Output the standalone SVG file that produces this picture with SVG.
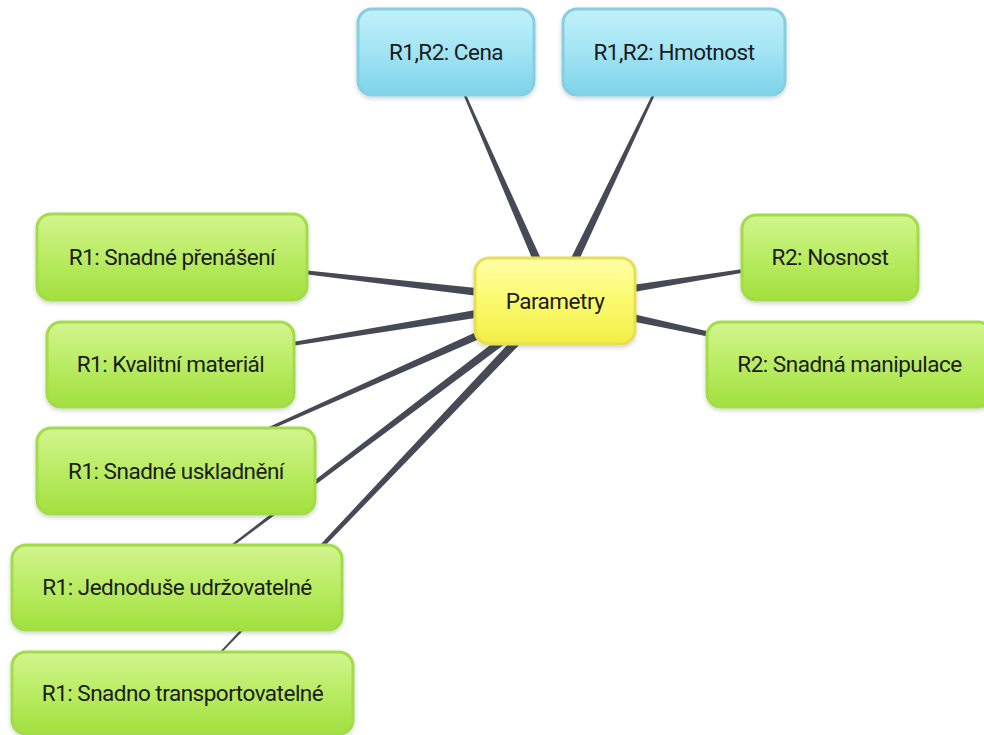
<svg xmlns="http://www.w3.org/2000/svg" width="984" height="735" viewBox="0 0 984 735">
  <defs>
    <linearGradient id="gGreen" x1="0" y1="0" x2="0" y2="1">
      <stop offset="0" stop-color="#d2f58e"/>
      <stop offset="0.5" stop-color="#b9ec63"/>
      <stop offset="1" stop-color="#a2e03f"/>
    </linearGradient>
    <linearGradient id="gBlue" x1="0" y1="0" x2="0" y2="1">
      <stop offset="0" stop-color="#c2f1fa"/>
      <stop offset="0.5" stop-color="#a2e4f4"/>
      <stop offset="1" stop-color="#7dd3e9"/>
    </linearGradient>
    <linearGradient id="gYellow" x1="0" y1="0" x2="0" y2="1">
      <stop offset="0" stop-color="#ffffa8"/>
      <stop offset="0.5" stop-color="#fbfa6c"/>
      <stop offset="1" stop-color="#f2ee48"/>
    </linearGradient>
    <filter id="shadow" x="-10%" y="-10%" width="120%" height="130%">
      <feDropShadow dx="0" dy="2" stdDeviation="2" flood-color="#000000" flood-opacity="0.18"/>
    </filter>
  </defs>
  <style>
    .box { stroke-width: 3; filter: url(#shadow); }
    .green { fill: url(#gGreen); stroke: #a3dc48; }
    .blue { fill: url(#gBlue); stroke: #86cfe2; }
    .yellow { fill: url(#gYellow); stroke: #e6df55; }
    .label { font-family: Roboto, "Liberation Sans", sans-serif; font-size: 22.5px; letter-spacing: -0.5px; fill: #1b1b1b; text-anchor: middle; }
    .link { fill: #464a56; }
  </style>
  <rect width="984" height="735" fill="#ffffff"/>

  <!-- tapered branches from the central topic to each subtopic -->
  <g id="connectors">
    <polygon class="link" points="559.35,299.10 446.46,51.80 445.54,52.20 550.65,302.90"/>
    <polygon class="link" points="559.29,303.05 674.45,52.22 673.55,51.78 550.71,298.95"/>
    <polygon class="link" points="555.54,296.28 172.06,256.50 171.94,257.50 554.46,305.72"/>
    <polygon class="link" points="554.23,296.31 169.92,363.51 170.08,364.49 555.77,305.69"/>
    <polygon class="link" points="553.07,296.66 175.80,469.54 176.20,470.46 556.93,305.34"/>
    <polygon class="link" points="552.13,297.21 176.70,586.60 177.30,587.40 557.87,304.79"/>
    <polygon class="link" points="551.56,297.73 181.64,692.66 182.36,693.34 558.44,304.27"/>
    <polygon class="link" points="555.75,305.69 830.08,257.49 829.92,256.51 554.25,296.31"/>
    <polygon class="link" points="554.00,305.64 847.89,364.49 848.11,363.51 556.00,296.36"/>
  </g>

  <g id="node-cena">
    <rect class="box blue" x="358" y="9" width="176" height="86" rx="14"/>
    <text class="label" x="446" y="60">R1,R2: Cena</text>
  </g>
  <g id="node-hmotnost">
    <rect class="box blue" x="563" y="9" width="222" height="86" rx="14"/>
    <text class="label" x="674" y="60">R1,R2: Hmotnost</text>
  </g>
  <g id="node-parametry">
    <rect class="box yellow" x="475" y="258" width="160" height="86" rx="14"/>
    <text class="label" x="555" y="309">Parametry</text>
  </g>
  <g id="node-prenaseni">
    <rect class="box green" x="37" y="214" width="270" height="86" rx="14"/>
    <text class="label" x="172" y="265">R1: Snadné přenášení</text>
  </g>
  <g id="node-kvalitni">
    <rect class="box green" x="47" y="322" width="247" height="85" rx="14"/>
    <text class="label" x="170.5" y="372">R1: Kvalitní materiál</text>
  </g>
  <g id="node-uskladneni">
    <rect class="box green" x="37" y="428" width="278" height="86" rx="14"/>
    <text class="label" x="176" y="479">R1: Snadné uskladnění</text>
  </g>
  <g id="node-jednoduse">
    <rect class="box green" x="12" y="545" width="330" height="85" rx="14"/>
    <text class="label" x="177" y="595">R1: Jednoduše udržovatelné</text>
  </g>
  <g id="node-transport">
    <rect class="box green" x="12" y="652" width="341" height="82" rx="14"/>
    <text class="label" x="182.5" y="701">R1: Snadno transportovatelné</text>
  </g>
  <g id="node-nosnost">
    <rect class="box green" x="742" y="215" width="176" height="85" rx="14"/>
    <text class="label" x="830" y="265">R2: Nosnost</text>
  </g>
  <g id="node-manipulace">
    <rect class="box green" x="707" y="322" width="285" height="85" rx="14"/>
    <text class="label" x="849.5" y="372">R2: Snadná manipulace</text>
  </g>
</svg>
